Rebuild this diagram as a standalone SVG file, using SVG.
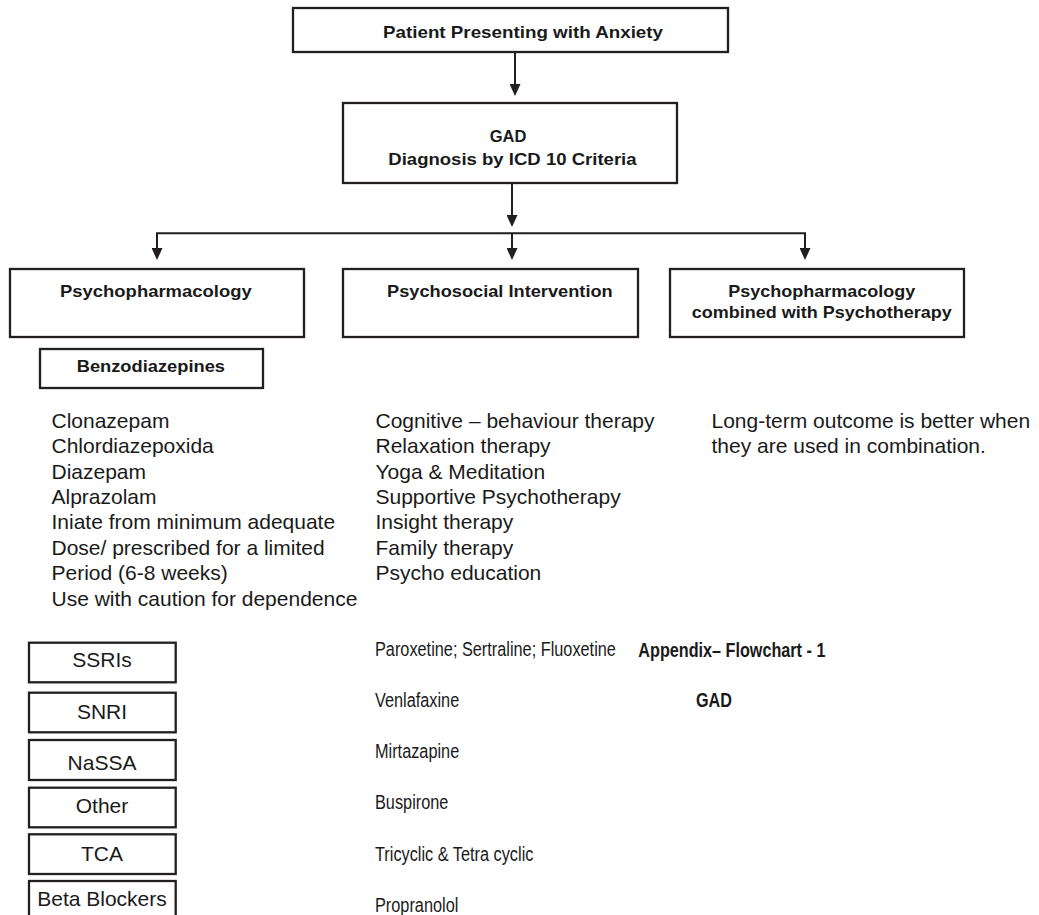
<svg xmlns="http://www.w3.org/2000/svg" width="1039" height="915" viewBox="0 0 1039 915">
<style>
.box{fill:#fff;stroke:#231f20;stroke-width:2.3}
.hb{font-family:"Liberation Sans",Arial,sans-serif;font-weight:bold;font-size:16.5px;fill:#1a1a1a}
.rt{font-family:"Liberation Sans",Arial,sans-serif;font-size:21px;fill:#1a1a1a}
.ct{font-family:"Liberation Sans",Arial,sans-serif;font-size:20px;fill:#1a1a1a}
.cb{font-family:"Liberation Sans",Arial,sans-serif;font-weight:bold;font-size:20px;fill:#1a1a1a}
.ln{fill:none;stroke:#231f20;stroke-width:2}
</style>
<defs>
<marker id="ah" markerUnits="userSpaceOnUse" markerWidth="12" markerHeight="11" refX="0" refY="5.5" orient="auto">
<path d="M0,0 L12,5.5 L0,11 z" fill="#231f20"/>
</marker>
</defs>
<rect width="1039" height="915" fill="#fff"/>
<g id="connectors">
<line class="ln" x1="515" y1="52" x2="515" y2="84" marker-end="url(#ah)"/>
<line class="ln" x1="512" y1="183" x2="512" y2="215" marker-end="url(#ah)"/>
<polyline class="ln" points="157,248 157,233.3 805,233.3 805,248" marker-end="url(#ah)"/>
<line class="ln" x1="157" y1="234" x2="157" y2="248" marker-end="url(#ah)"/>
<line class="ln" x1="512" y1="233" x2="512" y2="248" marker-end="url(#ah)"/>
</g>
<g id="n-patient">
<rect class="box" x="293" y="8" width="435" height="44"/>
<text class="hb" x="383" y="37.5" textLength="280" lengthAdjust="spacingAndGlyphs">Patient Presenting with Anxiety</text>
</g>
<g id="n-gad">
<rect class="box" x="343" y="103" width="334" height="80"/>
<text class="hb" x="508" y="141.5" text-anchor="middle">GAD</text>
<text class="hb" x="388.3" y="165" textLength="248.3" lengthAdjust="spacingAndGlyphs">Diagnosis by ICD 10 Criteria</text>
</g>
<g id="n-psychopharm">
<rect class="box" x="10" y="269" width="294" height="68"/>
<text class="hb" x="60" y="296.7" textLength="191.7" lengthAdjust="spacingAndGlyphs">Psychopharmacology</text>
</g>
<g id="n-psychosocial">
<rect class="box" x="343" y="269" width="295" height="68"/>
<text class="hb" x="387" y="296.7" textLength="225.7" lengthAdjust="spacingAndGlyphs">Psychosocial Intervention</text>
</g>
<g id="n-combined">
<rect class="box" x="670" y="269" width="294" height="68"/>
<text class="hb" x="728.3" y="296.7" textLength="187" lengthAdjust="spacingAndGlyphs">Psychopharmacology</text>
<text class="hb" x="691.7" y="318.3" textLength="260" lengthAdjust="spacingAndGlyphs">combined with Psychotherapy</text>
</g>
<g id="n-benzo">
<rect class="box" x="40" y="349" width="223" height="39"/>
<text class="hb" x="76.7" y="372.3" textLength="148.3" lengthAdjust="spacingAndGlyphs">Benzodiazepines</text>
</g>
<g id="benzo-list" class="rt">
<text x="51.5" y="427.7">Clonazepam</text>
<text x="51.5" y="453.1">Chlordiazepoxida</text>
<text x="51.5" y="478.5">Diazepam</text>
<text x="51.5" y="503.9">Alprazolam</text>
<text x="51.5" y="529.3">Iniate from minimum adequate</text>
<text x="51.5" y="554.7">Dose/ prescribed for a limited</text>
<text x="51.5" y="580.1">Period (6-8 weeks)</text>
<text x="51.5" y="605.5">Use with caution for dependence</text>
</g>
<g id="psychosocial-list" class="rt">
<text x="375.5" y="427.7">Cognitive – behaviour therapy</text>
<text x="375.5" y="453.1">Relaxation therapy</text>
<text x="375.5" y="478.5">Yoga &amp; Meditation</text>
<text x="375.5" y="503.9">Supportive Psychotherapy</text>
<text x="375.5" y="529.3">Insight therapy</text>
<text x="375.5" y="554.7">Family therapy</text>
<text x="375.5" y="580.1">Psycho education</text>
</g>
<g id="combined-note" class="rt">
<text x="711.5" y="427.7">Long-term outcome is better when</text>
<text x="711.5" y="453.1">they are used in combination.</text>
</g>
<g id="n-ssri">
<rect class="box" x="29" y="642.7" width="146.7" height="39.6"/>
<text class="rt" x="102" y="666.7" text-anchor="middle">SSRIs</text>
</g>
<g id="n-snri">
<rect class="box" x="29" y="692.7" width="146.7" height="39.6"/>
<text class="rt" x="102" y="719.3" text-anchor="middle">SNRI</text>
</g>
<g id="n-nassa">
<rect class="box" x="29" y="740" width="146.7" height="40"/>
<text class="rt" x="102" y="770" text-anchor="middle">NaSSA</text>
</g>
<g id="n-other">
<rect class="box" x="29" y="787.7" width="146.7" height="39.6"/>
<text class="rt" x="102" y="813" text-anchor="middle">Other</text>
</g>
<g id="n-tca">
<rect class="box" x="29" y="834.3" width="146.7" height="39.7"/>
<text class="rt" x="102" y="860.7" text-anchor="middle">TCA</text>
</g>
<g id="n-beta">
<rect class="box" x="29" y="881" width="146.7" height="50"/>
<text class="rt" x="102" y="906" text-anchor="middle">Beta Blockers</text>
</g>
<g id="drug-list" class="ct" transform="translate(375,0) scale(0.815,1)">
<text x="0" y="656.5">Paroxetine; Sertraline; Fluoxetine</text>
<text x="0" y="707.3">Venlafaxine</text>
<text x="0" y="758.3">Mirtazapine</text>
<text x="0" y="809.3">Buspirone</text>
<text x="0" y="860.7">Tricyclic &amp; Tetra cyclic</text>
<text x="0" y="911.7">Propranolol</text>
</g>
<g id="caption" class="cb">
<text transform="translate(638.3,656.5) scale(0.81,1)" x="0" y="0">Appendix– Flowchart - 1</text>
<text transform="translate(696,707.3) scale(0.81,1)" x="0" y="0">GAD</text>
</g>
</svg>
